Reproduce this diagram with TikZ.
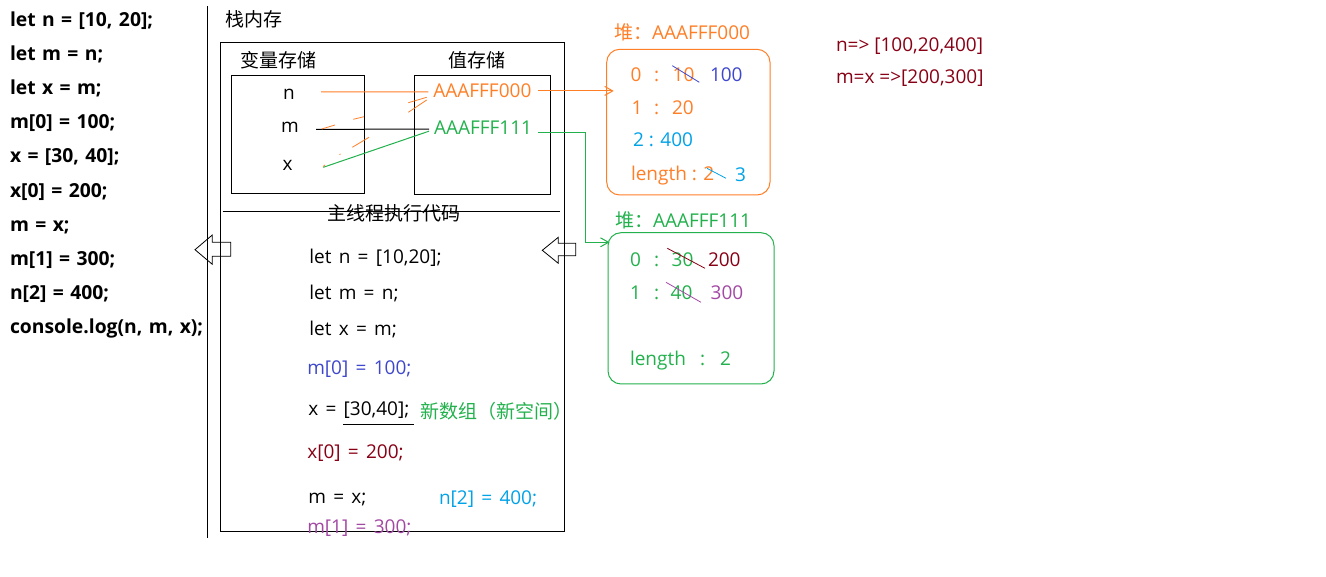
\documentclass[tikz,border=0pt]{standalone}
\usepackage{fontspec}
\setmainfont{Open Sans}
\newfontfamily\cjk{Noto Sans CJK SC}
\usetikzlibrary{arrows.meta}
\definecolor{porange}{HTML}{FF7F27}
\definecolor{pgreen}{HTML}{22B14C}
\definecolor{pindigo}{HTML}{3F48CC}
\definecolor{pcyan}{HTML}{00A2E8}
\definecolor{pdred}{HTML}{880015}
\definecolor{ppurple}{HTML}{A349A4}
\newcommand\widesp[1]{\spaceskip=#1 plus 1pt\relax}
\tikzset{
  lat/.style={anchor=base west, inner sep=0pt, outer sep=0pt, font=\fontsize{19}{22}\selectfont},
  code/.style={anchor=base west, inner sep=0pt, outer sep=0pt, font=\fontsize{19}{22}\selectfont, execute at begin node={\widesp{7.3pt}}},
  latb/.style={anchor=base west, inner sep=0pt, outer sep=0pt, font=\bfseries\fontsize{19.3}{22}\selectfont, execute at begin node={\widesp{6.4pt}}},
  han/.style={anchor=base west, inner sep=0pt, outer sep=0pt, font=\cjk\fontsize{19}{22}\selectfont},
  sbox/.style={draw, line width=1pt, anchor=north west, inner sep=0pt, outer sep=0pt},
  hbox/.style={draw, line width=1pt, anchor=north west, inner sep=0pt, outer sep=0pt, rounded corners=13pt},
  conn/.style={line width=1pt},
  strike/.style={line width=0.8pt},
  barb/.style={-{Straight Barb[length=8pt,width=9pt]}},
}
\begin{document}
\begin{tikzpicture}[x=1pt,y=-1pt]
\useasboundingbox (0,0) rectangle (1326,577);
\fill[white] (0,0) rectangle (1326,577);

% left code
\foreach \t [count=\i from 0] in {{let n = [10, 20];},{let m = n;},{let x = m;},{m[0] = 100;},{x = [30, 40];},{x[0] = 200;},{m = x;},{m[1] = 300;},{n[2] = 400;},{console.log(n, m, x);}}
  \node[latb] (code\i) at (10,26.7+34.07*\i) {\t};

% vertical divider
\draw[line width=1pt] (207.3,6) -- (207.3,538);

% stack
\node[han] (stacklbl) at (225,27) {栈内存};
\node[sbox, minimum width=343.6pt, minimum height=488.3pt] (stack) at (220.7,42.7) {};
\node[han] (varlbl) at (240.7,67.7) {变量存储};
\node[han] (vallbl) at (448,67.7) {值存储};
\node[sbox, minimum width=132.6pt, minimum height=118.3pt] (varbox) at (231.7,75.7) {};
\node[sbox, minimum width=136pt, minimum height=119.3pt] (valbox) at (414.3,75.7) {};

\node[lat] (vn) at (283,100) {n};
\node[lat] (vm) at (281,132.7) {m};
\node[lat] (vx) at (282.7,170.7) {x};
\node[lat, text=porange] (A0) at (433.3,97.7) {AAAFFF000};
\node[lat, text=pgreen] (A1) at (434,135) {AAAFFF111};

\coordinate (nR) at (321,92);
\coordinate (mR) at (316,129.3);
\coordinate (xR) at (323.3,167.3);
\draw[conn, porange] (nR) -- ([xshift=-5pt,yshift=-1pt]A0.west);
\draw[conn, black] (mR) -- ([xshift=-5pt,yshift=-1pt]A1.west);
\draw[conn, pgreen] (xR) -- ([xshift=-5pt,yshift=-3pt]A1.west);

% erased orange pointers (m, x -> AAAFFF000)
\draw[strike, porange] (321.7,129) -- (335,125) (353.3,119.3) -- (364,116.7) (408.3,102.7) -- (426.7,97.3);
\draw[strike, porange] (323,166.5) -- (325,165) (339.5,154.6) -- (340.5,154) (352.3,147.3) -- (369,137.3) (408.3,112.3) -- (426.7,100);

% separator and main thread label
\draw[line width=1pt] (222.7,211.3) -- (560,211.3);
\node[han] (mainlbl) at (327.7,220.5) {主线程执行代码};

% hollow arrows
\draw[line width=0.8pt] (195,249.7) -- (212.3,235) -- (212.3,242.3) -- (230.7,242.3) -- (230.7,256.3) -- (212.3,256.3) -- (212.3,264.3) -- cycle;
\draw[line width=0.8pt] (542.3,250.3) -- (558.3,237.3) -- (558.3,243.3) -- (575.7,243.3) -- (575.7,255.7) -- (558.3,255.7) -- (558.3,263.3) -- cycle;

% main thread code
\node[code] (l1) at (309.3,264) {let n = [10,20];};
\node[code] (l2) at (309.3,299.5) {let m = n;};
\node[code] (l3) at (309.3,335.5) {let x = m;};
\node[code, text=pindigo] (l4) at (307.3,375) {m[0] = 100;};
\node[code] (l5) at (308.3,415) {x = [30,40];};
\draw[line width=1pt] (343,424) -- (414,424);
\node[han, text=pgreen] (newarr) at (420.7,418.5) {新数组（新空间）};
\node[code, text=pdred] (l6) at (307.3,458) {x[0] = 200;};
\node[code] (l7) at (308.3,503) {m = x;};
\node[code, text=pcyan] (l8) at (439,504.5) {n[2] = 400;};
\node[code, text=ppurple] (l9) at (307.3,533) {m[1] = 300;};

% heap 1
\node[lat, text=porange] (h1lbl) at (614,40) {{\cjk 堆：}AAAFFF000};
\node[hbox, draw=porange, minimum width=163.3pt, minimum height=145.7pt] (h1) at (606.7,49.3) {};
\node[lat, text=porange] (h1a0) at (630.7,82) {0};
\node[lat, text=porange] (h1c0) at (654,82) {:};
\node[lat, text=porange] (h1v0) at (672.7,82) {10};
\draw[strike, pindigo] (672.3,65.7) -- (699.3,82.3);
\node[lat, text=pindigo] (h1n0) at (710,82) {100};
\node[lat, text=porange] (h1a1) at (631.7,115) {1};
\node[lat, text=porange] (h1c1) at (654,115) {:};
\node[lat, text=porange] (h1v1) at (672,115) {20};
\node[lat, text=pcyan] (h1a2) at (633,147) {2 : 400};
\node[lat, text=porange] (h1len) at (631,181) {length : 2};
\draw[strike, pcyan] (707,168.3) -- (726,178.3);
\node[lat, text=pcyan] (h1n3) at (735,182) {3};

% heap 2
\node[lat, text=pgreen] (h2lbl) at (615,228) {{\cjk 堆：}AAAFFF111};
\node[hbox, draw=pgreen, minimum width=166pt, minimum height=151.3pt] (h2) at (608,232.7) {};
\node[lat, text=pgreen] (h2a0) at (630,266.7) {0};
\node[lat, text=pgreen] (h2c0) at (654,266.7) {:};
\node[lat, text=pgreen] (h2v0) at (671.7,266.7) {30};
\draw[strike, pdred] (667.3,248.3) -- (705,268.3);
\node[lat, text=pdred] (h2n0) at (708,266.7) {200};
\node[lat, text=pgreen] (h2a1) at (630,300) {1};
\node[lat, text=pgreen] (h2c1) at (654,300) {:};
\node[lat, text=pgreen] (h2v1) at (670.7,300) {40};
\draw[strike, ppurple] (666,282.3) -- (701,302.3);
\node[lat, text=ppurple] (h2n1) at (710.7,300) {300};
\node[lat, text=pgreen] (h2len) at (630,365.7) {length};
\node[lat, text=pgreen] (h2lc) at (700,365.7) {:};
\node[lat, text=pgreen] (h2lv) at (720,365.7) {2};

% pointers to heap
\draw[conn, porange, barb] ([xshift=7pt]A0.east) -- ([xshift=7pt]A0.east -| h1.west);
\coordinate (gturn) at (585.7,242.3);
\coordinate (h2in) at (609.5,242.3);
\draw[conn, pgreen, barb] ([xshift=6pt,yshift=-4pt]A1.east) -| (gturn) -- (h2in);

% result
\node[lat, text=pdred] (res1) at (836,51.7) {n=> [100,20,400]};
\node[lat, text=pdred] (res2) at (836,84) {m=x =>[200,300]};
\end{tikzpicture}
\end{document}
